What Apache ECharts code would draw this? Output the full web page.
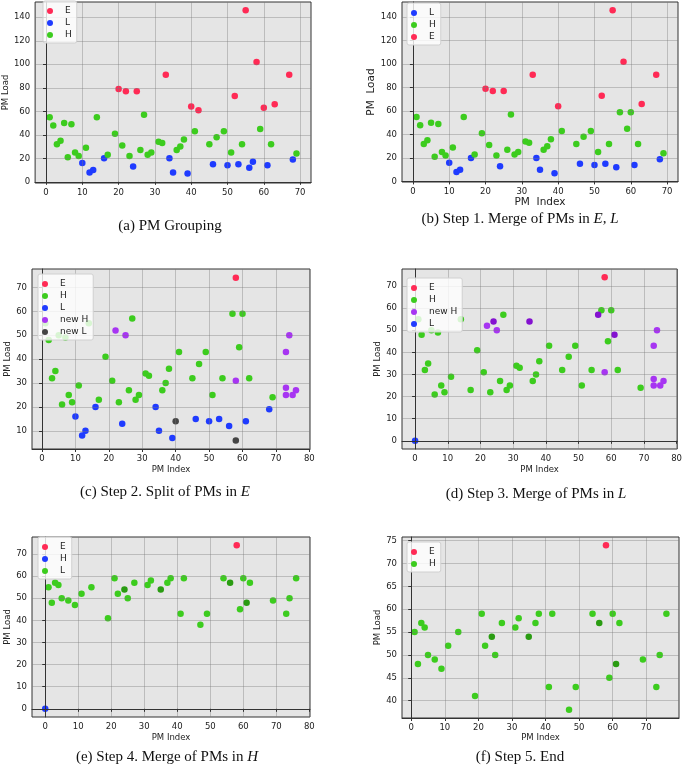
<!DOCTYPE html>
<html>
<head>
<meta charset="utf-8">
<script src="https://cdn.jsdelivr.net/npm/echarts@6/dist/echarts.min.js"></script>
<style>
    html, body {margin: 0; padding: 0; background: #fff;}
    #main {width: 685px; height: 769px;}
</style>
</head>
<body>
<div id="main"></div>
<script>
// (a) PM grouping
var aE = [[20, 79], [22, 77], [25, 77], [33, 91], [40, 64], [42, 61], [52, 73], [55, 146], [58, 102], [60, 63], [63, 66], [67, 91]];
var aL = [[10, 16], [12, 8], [13, 10], [16, 20], [24, 13], [34, 20], [35, 8], [39, 7], [46, 15], [50, 14], [53, 15], [56, 12], [57, 17], [61, 14], [68, 19]];
var aH = [[1, 55], [2, 48], [3, 32], [4, 35], [5, 50], [6, 21], [7, 49], [8, 25], [9, 22], [11, 29], [14, 55], [17, 23], [19, 41], [21, 31], [23, 22], [26, 27], [27, 57], [28, 23], [29, 25], [31, 34], [32, 33], [36, 27], [37, 30], [38, 36], [41, 43], [45, 32], [47, 38], [49, 43], [51, 25], [54, 32], [59, 45], [62, 32], [69, 24]];

// (b) step 1
var bL = [[10, 16], [12, 8], [13, 10], [16, 20], [24, 13], [34, 20], [35, 10], [39, 7], [46, 15], [50, 14], [53, 15], [56, 12], [61, 14], [68, 19]];
var bH = [[1, 55], [2, 48], [3, 32], [4, 35], [5, 50], [6, 21], [7, 49], [8, 25], [9, 22], [11, 29], [14, 55], [17, 23], [19, 41], [21, 31], [23, 22], [26, 27], [27, 57], [28, 23], [29, 25], [31, 34], [32, 33], [36, 27], [37, 30], [38, 36], [41, 43], [45, 32], [47, 38], [49, 43], [51, 25], [54, 32], [57, 59], [59, 45], [60, 59], [62, 32], [69, 24]];
var bE = [[20, 79], [22, 77], [25, 77], [33, 91], [40, 64], [52, 73], [55, 146], [58, 102], [63, 66], [67, 91]];

// (c) step 2
var cE = [[58, 74]];
var cH = bH;
var cL = bL;
var cNewH = [[22, 52], [25, 50], [58, 31], [73, 43], [74, 50], [73, 28], [73, 25], [75, 25], [76, 27]];
var cNewL = [[40, 14], [58, 6]];

// (d) step 3
var dE = [[58, 74]];
var dH = bH;
var dNewH = [[22, 52], [25, 50], [58, 31], [73, 43], [74, 50], [73, 28], [73, 25], [75, 25], [76, 27]];
var dMerged = [[24, 54], [35, 54], [56, 57], [61, 48]];
var dL = [[0, 0]];

// (e) step 4
var eE = [[58, 74]];
var eH = [[0, 0]];
var eL = [[1, 55], [2, 48], [3, 57], [4, 56], [5, 50], [7, 49], [9, 47], [11, 52], [14, 55], [19, 41], [21, 59], [22, 52], [25, 50], [27, 57], [31, 56], [32, 58], [37, 57], [38, 59], [41, 43], [42, 59], [47, 38], [49, 43], [54, 59], [59, 45], [60, 59], [62, 57], [69, 49], [73, 43], [74, 50], [76, 59]];
var eMerged = [[24, 54], [35, 54], [56, 57], [61, 48]];

// (f) step 5
var fE = [[58, 74]];
var fH = [[1, 55], [2, 48], [3, 57], [4, 56], [5, 50], [7, 49], [9, 47], [11, 52], [14, 55], [19, 41], [21, 59], [22, 52], [25, 50], [27, 57], [31, 56], [32, 58], [37, 57], [38, 59], [41, 43], [42, 59], [47, 38], [49, 43], [54, 59], [59, 45], [60, 59], [62, 57], [69, 49], [73, 43], [74, 50], [76, 59]];
var fMerged = [[24, 54], [35, 54], [56, 57], [61, 48]];

// tick labels
var xTicks70 = [0, 10, 20, 30, 40, 50, 60, 70];
var xTicks80 = [0, 10, 20, 30, 40, 50, 60, 70, 80];
var yTicks140 = [0, 20, 40, 60, 80, 100, 120, 140];
var yTicks10to70 = [10, 20, 30, 40, 50, 60, 70];
var yTicks0to70 = [0, 10, 20, 30, 40, 50, 60, 70];
var yTicks40to75 = [40, 45, 50, 55, 60, 65, 70, 75];

var RED = '#ff2a55', BLUE = '#1f3bff', GREEN = '#3ccc1e', DKGREEN = '#2a9c12',
    PURPLE = '#a735f2', DKPURPLE = '#8412d0', GRAY = '#454545';
var TICK_FONT = 'DejaVu Sans';

var panels = [
    {
        id: 'a', rect: [32, 2, 279, 181], x: [-3, 73, 10, xTicks70], y: [-1, 153, 20, yTicks140],
        yName: 'PM Load', yGap: 22, xName: '', nameSize: 8.5, legend: [43, 1],
        caption: '(a) PM Grouping', cap: [170, 219],
        series: [['E', aE, RED], ['L', aL, BLUE], ['H', aH, GREEN]]
    },
    {
        id: 'b', rect: [402, 2, 276, 180], x: [-3, 73, 10, xTicks70], y: [-0.5, 153, 20, yTicks140],
        yName: 'PM  Load', yGap: 24, xName: 'PM  Index', xGap: 15, nameSize: 10.5, legend: [407, 3],
        caption: '(b) Step 1. Merge of PMs in {i|E}, {i|L}', cap: [520, 212],
        series: [['L', bL, BLUE], ['H', bH, GREEN], ['E', bE, RED]]
    },
    {
        id: 'c', rect: [32, 269, 278, 180], x: [-3, 80.2, 10, xTicks80], y: [2.4, 77.7, 10, yTicks10to70],
        yName: 'PM Load', yGap: 18, xName: 'PM Index', xGap: 16, nameSize: 8.5, legend: [38, 274],
        caption: '(c) Step 2. Split of PMs in {i|E}', cap: [165, 485],
        series: [['E', cE, RED], ['H', cH, GREEN], ['L', cL, BLUE], ['new H', cNewH, PURPLE], ['new L', cNewL, GRAY]]
    },
    {
        id: 'd', rect: [402, 269, 277, 180], x: [-4, 80.2, 10, xTicks80], y: [-3.7, 77.7, 10, yTicks0to70],
        yName: 'PM Load', yGap: 19, xName: 'PM Index', xGap: 16, nameSize: 8.5, legend: [407, 278],
        caption: '(d) Step 3. Merge of PMs in {i|L}', cap: [536, 487],
        series: [['E', dE, RED], ['H', dH, GREEN], ['new H', dNewH, PURPLE], ['L', dL, BLUE], ['merged', dMerged, DKPURPLE]]
    },
    {
        id: 'e', rect: [32, 537, 278, 180], x: [-4, 80.2, 10, xTicks80], y: [-3.7, 77.7, 10, yTicks0to70],
        yName: 'PM Load', yGap: 18, xName: 'PM Index', xGap: 16, nameSize: 8.5, legend: [38, 537],
        caption: '(e) Step 4. Merge of PMs in {i|H}', cap: [167, 750],
        series: [['E', eE, RED], ['H', eH, BLUE], ['L', eL, GREEN], ['merged', eMerged, DKGREEN]]
    },
    {
        id: 'f', rect: [402, 537, 277, 181], x: [-2.75, 79.75, 10, xTicks70], y: [36.2, 75.8, 5, yTicks40to75],
        yName: 'PM Load', yGap: 19, xName: 'PM Index', xGap: 15, nameSize: 8.5, legend: [407, 542],
        caption: '(f) Step 5. End', cap: [520, 750],
        series: [['E', fE, RED], ['H', fH, GREEN], ['merged', fMerged, DKGREEN]]
    }
];

function axis(i, r, name, gap, size) {
    return {
        gridIndex: i, type: 'value', min: r[0], max: r[1], minInterval: r[2], maxInterval: r[2], z: 2,
        axisLine: {show: true, lineStyle: {color: '#333', width: 1}},
        axisTick: {show: true, length: 3, customValues: r[3], lineStyle: {color: '#333'}},
        axisLabel: {customValues: r[3], margin: 5, fontSize: 8.5, color: '#222', fontFamily: TICK_FONT},
        splitLine: {show: true, lineStyle: {color: 'rgba(120,120,120,0.38)', width: 1}},
        name: name, nameLocation: 'middle', nameGap: gap,
        nameTextStyle: {fontSize: size, color: '#222', fontFamily: TICK_FONT}
    };
}

var option = {
    animation: false,
    grid: [], xAxis: [], yAxis: [], legend: [], title: [], series: []
};

panels.forEach(function (p, i) {
    option.grid.push({
        left: p.rect[0], top: p.rect[1], width: p.rect[2], height: p.rect[3],
        show: true, backgroundColor: '#e5e5e5', borderColor: '#333', borderWidth: 1
    });
    option.xAxis.push(axis(i, p.x, p.xName, p.xGap || 15, p.nameSize));
    option.yAxis.push(axis(i, p.y, p.yName, p.yGap, p.nameSize));

    var names = [];
    p.series.forEach(function (s) {
        var full = p.id + '.' + s[0];
        if (s[0] !== 'merged') names.push(full);
        option.series.push({
            name: full, type: 'scatter', xAxisIndex: i, yAxisIndex: i,
            data: s[1], symbolSize: 6.5, z: 1, silent: true,
            itemStyle: {color: s[2], opacity: 1}
        });
    });

    option.legend.push({
        data: names, orient: 'vertical', left: p.legend[0], top: p.legend[1],
        icon: 'circle', itemWidth: 6, itemHeight: 6, itemGap: 2,
        formatter: function (n) { return n.split('.')[1]; },
        textStyle: {fontSize: 9, lineHeight: 10, color: '#222', fontFamily: TICK_FONT, padding: [0, 0, 0, 7]},
        backgroundColor: 'rgba(255,255,255,0.8)', borderColor: '#d0d0d0', borderWidth: 1, borderRadius: 2,
        padding: [5, 5, 3, 4]
    });

    option.title.push({
        text: p.caption, left: p.cap[0], top: p.cap[1], textAlign: 'center', padding: 0,
        textStyle: {
            fontFamily: 'Liberation Serif', fontSize: 15, fontWeight: 'normal', color: '#111',
            rich: {i: {fontFamily: 'Liberation Serif', fontSize: 15, fontStyle: 'italic', color: '#111'}}
        }
    });
});

var myChart = echarts.init(document.getElementById('main'));
myChart.setOption(option);
</script>
</body>
</html>
